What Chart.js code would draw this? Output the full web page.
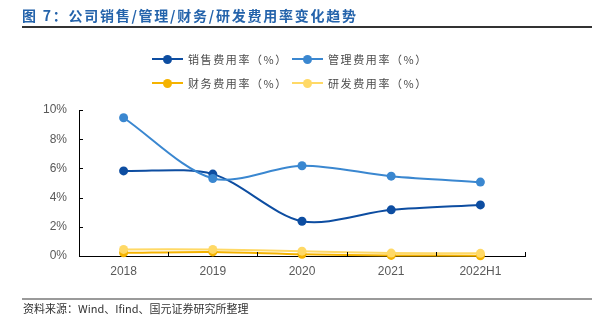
<!DOCTYPE html>
<html>
<head>
<meta charset="utf-8">
<script src="https://cdn.jsdelivr.net/npm/chart.js@4.4.1/dist/chart.umd.min.js"></script>
<style>
  html, body { margin: 0; padding: 0; background: #fff; }
  #wrap { position: relative; width: 606px; height: 328px; overflow: hidden; }
  #c { position: absolute; left: 0; top: 0; }
  .title { position: absolute; left: 22px; top: 5px; font: bold 14px "Noto Sans CJK SC", sans-serif; color: #2463ab; letter-spacing: 1.75px; white-space: nowrap; }
  .topline { position: absolute; left: 22px; top: 26px; width: 570px; height: 1.5px; background: #333; }
  .botline { position: absolute; left: 22px; top: 298px; width: 570px; height: 2px; background: #9a9a9a; }
  .src { position: absolute; left: 23px; top: 300px; font: 11px "Noto Sans CJK SC", sans-serif; color: #333; white-space: nowrap; }
  .lg { position: absolute; height: 14px; display: flex; align-items: center; font: 11px "Noto Sans CJK SC", sans-serif; color: #4a4a4a; letter-spacing: 1.6px; white-space: nowrap; }
  .lg .sw { position: relative; width: 31px; height: 14px; margin-right: 5px; }
  .lg .sw i { position: absolute; left: 0; top: 6px; width: 31px; height: 2px; }
  .lg .sw b { position: absolute; left: 11px; top: 2.5px; width: 9px; height: 9px; border-radius: 50%; }
</style>
</head>
<body>
<div id="wrap">
  <canvas id="c" width="606" height="328"></canvas>
  <div class="title">图 7：公司销售/管理/财务/研发费用率变化趋势</div>
  <div class="topline"></div>
  <div id="legend"></div>
  <div class="botline"></div>
  <div class="src">资料来源：Wind、Ifind、国元证券研究所整理</div>
</div>
<script>
const categories = ['2018', '2019', '2020', '2021', '2022H1'];
const salesRate = [5.83, 5.61, 2.38, 3.16, 3.5];
const mgmtRate = [9.47, 5.31, 6.18, 5.47, 5.06];
const finRate = [0.22, 0.28, 0.12, 0.04, 0.02];
const rdRate = [0.45, 0.45, 0.33, 0.2, 0.18];
const yTicks = [0, 2, 4, 6, 8, 10];
const seriesNames = ['销售费用率（%）', '管理费用率（%）', '财务费用率（%）', '研发费用率（%）'];
const seriesColors = ['#0d4da1', '#3a87d0', '#f5b300', '#ffd966'];
const seriesData = [salesRate, mgmtRate, finRate, rdRate];
const drawOrder = [4, 3, 2, 1];

// HTML legend
const legendPos = [[152, 52], [292, 52], [152, 76], [292, 76]];
const lg = document.getElementById('legend');
seriesNames.forEach((n, i) => {
  const d = document.createElement('div');
  d.className = 'lg';
  d.style.left = legendPos[i][0] + 'px';
  d.style.top = legendPos[i][1] + 'px';
  d.innerHTML = '<span class="sw"><i style="background:' + seriesColors[i] + '"></i><b style="background:' + seriesColors[i] + '"></b></span><span>' + n + '</span>';
  lg.appendChild(d);
});

const innerTicks = {
  id: 'innerTicks',
  afterDraw(chart) {
    const ctx = chart.ctx, a = chart.chartArea;
    const ys = chart.scales.y, xs = chart.scales.x;
    ctx.save();
    ctx.strokeStyle = '#000';
    ctx.lineWidth = 1;
    ctx.beginPath();
    yTicks.forEach(v => {
      const y = Math.round(ys.getPixelForValue(v)) + 0.5;
      ctx.moveTo(a.left, y); ctx.lineTo(a.left + 4, y);
    });
    const n = categories.length;
    for (let i = 1; i <= n; i++) {
      const x = Math.round(xs.getPixelForValue(i - 0.5)) + 0.5;
      ctx.moveTo(x, a.bottom); ctx.lineTo(x, a.bottom - 4);
    }
    ctx.stroke();
    ctx.restore();
  }
};

new Chart(document.getElementById('c'), {
  type: 'line',
  data: {
    labels: categories,
    datasets: seriesData.map((d, i) => ({
      label: seriesNames[i],
      data: d,
      borderColor: seriesColors[i],
      backgroundColor: seriesColors[i],
      pointBackgroundColor: seriesColors[i],
      pointBorderColor: seriesColors[i],
      pointRadius: 4.5,
      pointBorderWidth: 0,
      borderWidth: 2,
      tension: 0.3,
      clip: false,
      order: drawOrder[i]
    }))
  },
  options: {
    responsive: false,
    animation: false,
    events: [],
    layout: { padding: { left: 0, top: 110, right: 81, bottom: 0 } },
    plugins: { legend: { display: false }, tooltip: { enabled: false } },
    scales: {
      x: {
        offset: true,
        grid: { display: true, drawOnChartArea: false, drawTicks: false, offset: true },
        border: { display: true, color: '#000', width: 1 },
        ticks: { color: '#595959', padding: 8, font: { family: 'Liberation Sans, Arial, sans-serif', size: 12 }, maxRotation: 0 },
        afterFit: s => { s.height = 72; }
      },
      y: {
        min: 0, max: 10,
        afterBuildTicks: s => { s.ticks = yTicks.map(v => ({ value: v })); },
        grid: { display: true, drawOnChartArea: false, drawTicks: false },
        border: { display: true, color: '#000', width: 1 },
        ticks: { color: '#595959', padding: 12, font: { family: 'Liberation Sans, Arial, sans-serif', size: 12 }, callback: v => v + '%' },
        afterFit: s => { s.width = 79; }
      }
    }
  },
  plugins: [innerTicks]
});
</script>
</body>
</html>
